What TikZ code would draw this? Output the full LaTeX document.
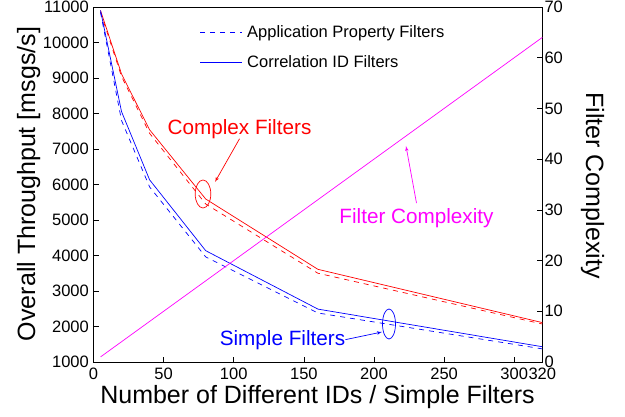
\documentclass[tikz,border=0pt]{standalone}
\usepackage{fontspec}
\setmainfont{Liberation Sans}
\usetikzlibrary{arrows,shapes.geometric,calc}
\definecolor{cplx}{RGB}{255,0,255}
\tikzset{
    curve/.style = {line width=0.7pt},
    apfilter/.style = {curve, dash pattern=on 5pt off 5pt},
    ticklabel/.style = {font=\fontsize{16.5}{18}\selectfont, inner sep=0pt},
    axislabel/.style = {font=\fontsize{25}{28}\selectfont, inner sep=0pt},
    annot/.style = {font=\fontsize{20.7}{24}\selectfont, inner sep=0pt},
    ring/.style = {draw, ellipse, line width=0.7pt, inner sep=0pt},
    pointer/.style = {draw, -latex', line width=0.7pt}
}

\begin{document}
\begin{tikzpicture}[x=1pt, y=1pt, >=latex']
    \useasboundingbox (0,0) rectangle (625,416);
    \draw [line width=0.8pt] (93.5,54) rectangle (542.3,409);
    % throughput axis (left)
    \begin{scope}[shift={(93.5pt,18.5pt)}, x=1.4025pt, y=0.0355pt]
        \foreach \v in {1000,2000,...,11000} {
            \draw [line width=0.6pt] (0,\v) -- ++(5pt,0);
            \node [ticklabel, anchor=east, xshift=-4.5pt] (yl\v) at (0,\v) {\v};
        }
        \foreach \v in {0,50,...,300,320} {
            \draw [line width=0.6pt] (\v,1000) -- ++(0,5pt);
            \node [ticklabel, anchor=north, yshift=-6pt] (xl\v) at (\v,1000) {\v};
        }
        \draw [curve, red] plot coordinates {(5,10900) (20,9110) (40,7540) (80,5590) (160,3610) (320,2110)};
        \draw [apfilter, red] plot coordinates {(5,10850) (20,9040) (40,7440) (80,5450) (160,3500) (320,2070)};
        \draw [curve, blue] plot coordinates {(5,10900) (20,8050) (40,6130) (80,4135) (160,2490) (320,1430)};
        \draw [apfilter, blue] plot coordinates {(5,10850) (20,7800) (40,5930) (80,3960) (160,2380) (320,1370)};
    \end{scope}
    % complexity axis (right)
    \begin{scope}[shift={(93.5pt,54pt)}, x=1.4025pt, y=5.0714pt]
        \foreach \v in {0,10,...,70} {
            \draw [line width=0.6pt] (320,\v) -- ++(-5pt,0);
            \node [ticklabel, anchor=west, xshift=2pt] (rl\v) at (320,\v) {\v};
        }
        \draw [curve, cplx] (5,1) -- (320,64);
    \end{scope}

    \node [axislabel, anchor=base] (xlabel) at (317.5,13) {Number of Different IDs / Simple Filters};
    \node [axislabel, anchor=base, rotate=90] (ylabel) at (35,232) {Overall Throughput [msgs/s]};
    \node [axislabel, anchor=base, rotate=-90] (rlabel) at (586,230.5) {Filter Complexity};

    \coordinate (lg1) at (200,384);
    \coordinate (lg2) at (200,354);
    \draw [apfilter, blue] (lg1) -- ++(42,0);
    \draw [curve, blue] (lg2) -- ++(42,0);
    \node [ticklabel, anchor=base west] (lt1) at (247,378.3) {Application Property Filters};
    \node [ticklabel, anchor=base west] (lt2) at (247,348.5) {Correlation ID Filters};

    \node [annot, red, anchor=base] (cf) at (239.5,281.7) {Complex Filters};
    \node [ring, red, minimum width=15.6pt, minimum height=28pt] (cfring) at (203,222) {};
    \coordinate (cftip) at (215,234);
    \draw [pointer, red] (cf.south) -- (cftip);

    \node [annot, cplx, anchor=base] (fc) at (416.5,192.7) {Filter Complexity};
    \coordinate (fctip) at (406,270);
    \draw [pointer, cplx] (fc.north) ++(0,5) -- (fctip);

    \node [annot, blue, anchor=base] (sf) at (282.5,71) {Simple Filters};
    \node [ring, blue, minimum width=13pt, minimum height=30pt] (sfring) at (389,92) {};
    \coordinate (sftip) at (382,84);
    \draw [pointer, blue] (sf.east) -- (sftip);
\end{tikzpicture}
\end{document}
